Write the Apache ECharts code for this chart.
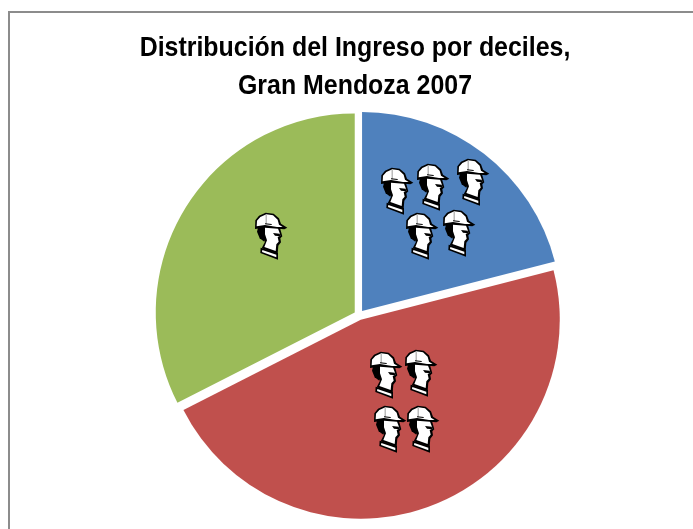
<!DOCTYPE html>
<html><head><meta charset="utf-8">
<style>html,body{margin:0;padding:0;background:#fff}#c{width:693px;height:529px}</style>
<script src="https://cdn.jsdelivr.net/npm/echarts@6/dist/echarts.min.js"></script>
</head><body><div id="c"></div>
<script>
const categories = ['Deciles altos', 'Deciles medios', 'Deciles bajos'];
const shares = [21, 46.5, 32.5];
const colors = ['#4F81BD', '#C0504D', '#9BBB59'];
const titleText = 'Distribución del Ingreso por deciles,\nGran Mendoza 2007';
// top-left corners of the decorative worker icons, one list per slice
const iconSpots = [
  [381,167],[417,163],[457,158],[406,212],[443,209],
  [370,351],[405,349],[374,405],[407,405],
  [255,212]
];
const S = 1/3;
function icon(p){
  const part=(pts,fill)=>({type:'polygon',z:10,shape:{points:pts},style:{fill:fill,stroke:null}});
  return {type:'group',x:p[0]-10,y:p[1]-11,scaleX:S,scaleY:S,silent:true,children:[
    part([[40,76],[36,92],[44,112],[58,122],[66,96],[62,76]],'#000'),
    part([[54,74],[104,78],[112,106],[106,112],[108,124],[100,134],[98,158],[50,142],[60,122],[52,100]],'#000'),
    part([[60,76],[98,80],[104,96],[106,104],[98,108],[101,122],[94,130],[92,150],[58,138],[66,118],[60,100]],'#fff'),
    part([[84,96],[104,98],[106,106],[90,104]],'#000'),
    part([[30,84],[31,58],[42,44],[62,35],[86,38],[102,52],[108,68],[127,80],[118,85],[60,80]],'#000'),
    part([[35,76],[36,59],[46,48],[64,40],[84,43],[98,56],[102,71],[113,78],[96,78],[60,72]],'#fff'),
    part([[62,41],[65,41],[65,70],[62,70]],'#999'),
    part([[60,67],[80,69],[80,72],[60,70]],'#000'),
    part([[47,140],[99,156],[99,176],[46,156]],'#000'),
    part([[52,147],[94,161],[94,169],[51,153]],'#fff')
  ]};
}
const chart = echarts.init(document.getElementById('c'), null, {renderer:'canvas'});
chart.setOption({
  animation:false,
  backgroundColor:'#fff',
  series:[{
    type:'pie',center:[359,315],radius:[0,199],startAngle:90,clockwise:true,
    selectedMode:'multiple',selectedOffset:5,
    label:{show:false},labelLine:{show:false},
    emphasis:{disabled:true},
    data:categories.map((n,i)=>({name:n,value:shares[i],selected:true,itemStyle:{color:colors[i]}}))
  }],
  graphic:[
    {type:'rect',silent:true,shape:{x:9,y:12,width:720,height:560},style:{fill:null,stroke:'#8C8C8C',lineWidth:2},z:-1},
    {type:'text',silent:true,x:355,y:67,scaleX:0.89,style:{text:titleText,x:0,y:0,align:'center',verticalAlign:'middle',
      font:'bold 28px "Liberation Sans"',lineHeight:38,fill:'#000'}},
    ...iconSpots.map(icon)
  ]
});
</script></body></html>
